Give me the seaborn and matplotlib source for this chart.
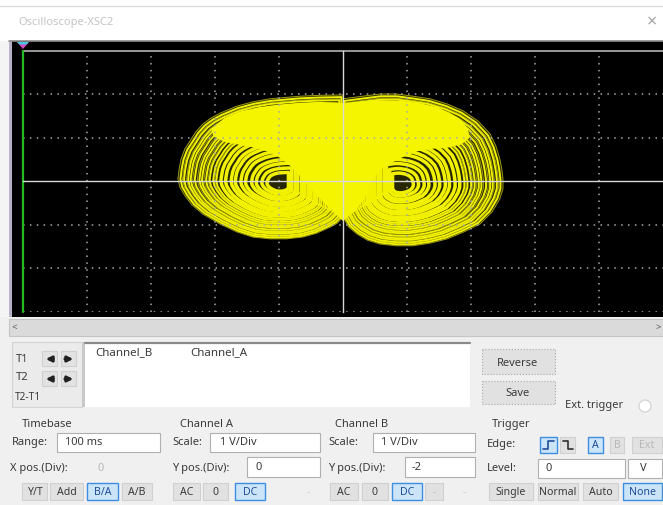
import numpy as np
import pandas as pd
import seaborn as sns
import matplotlib.pyplot as plt
from matplotlib.patches import Rectangle, Polygon, Circle

sns.set_style("dark")
plt.rcParams['font.family'] = ['Noto Sans', 'DejaVu Sans']

W, H = 663, 506

# attractor trace on the screen, in volts (1 V/Div)
left_lobe_x = [0.0, -0.09, -0.20, -0.41, -0.63, -0.88, -1.14, -1.41, -1.66, -1.92, -2.19, -2.36, -2.47, -2.55,
               -2.58, -2.56, -2.53, -2.47, -2.39, -2.30, -2.19, -2.06, -1.92, -1.66, -1.41, -1.14, -0.67, -0.36, 0.0]
left_lobe_y = [-0.83, -0.97, -1.06, -1.20, -1.29, -1.33, -1.33, -1.29, -1.17, -0.99, -0.76, -0.55, -0.34, -0.14,
               0.05, 0.28, 0.51, 0.74, 0.92, 1.13, 1.31, 1.45, 1.56, 1.72, 1.82, 1.89, 1.95, 1.97, 1.98]
right_lobe_x = [0.0, 0.09, 0.22, 0.38, 0.58, 0.83, 1.09, 1.36, 1.63, 1.89, 2.14, 2.33, 2.45, 2.50, 2.50,
                2.48, 2.45, 2.39, 2.30, 2.11, 1.88, 1.63, 1.36, 1.09, 0.84, 0.58, 0.31, 0.0]
right_lobe_y = [-0.83, -1.06, -1.22, -1.36, -1.45, -1.49, -1.49, -1.43, -1.33, -1.17, -0.99, -0.71, -0.41, -0.18,
                0.05, 0.28, 0.51, 0.80, 1.08, 1.38, 1.61, 1.77, 1.89, 1.95, 2.00, 2.00, 1.95, 1.89]
lobe_centres = {"left": (-0.98, -0.07), "right": (0.89, -0.09)}
bright_rings = [0.975, 0.94, 0.9, 0.875, 0.835, 0.79, 0.765, 0.725, 0.69, 0.655, 0.625]
dim_rings = [1.0, 0.955, 0.915, 0.855, 0.81, 0.745, 0.705, 0.64]
inner_rings = [0.58, 0.535, 0.48, 0.44, 0.385, 0.34, 0.28, 0.235, 0.18, 0.13]
dense_x = [-2.06, -1.85, -1.61, -1.30, -0.98, -0.66, -0.36, 0.0, 0.30, 0.58, 0.90, 1.20, 1.47, 1.67, 1.85, 1.95,
           1.98, 1.85, 1.62, 1.38, 1.15, 0.89, 0.62, 0.45, 0.34, 0.18, 0.0,
           -0.16, -0.33, -0.50, -0.66, -0.85, -1.05, -1.30, -1.58, -1.85, -2.02]
dense_y = [1.20, 1.45, 1.60, 1.70, 1.76, 1.80, 1.82, 1.79, 1.83, 1.86, 1.85, 1.79, 1.70, 1.57, 1.40, 1.20,
           1.00, 0.84, 0.76, 0.74, 0.68, 0.52, 0.30, 0.02, -0.40, -0.70, -0.92,
           -0.70, -0.45, -0.20, 0.10, 0.38, 0.60, 0.74, 0.82, 0.90, 1.02]

grid_x = [-4, -3, -2, -1, 1, 2, 3, 4]
grid_y = [-3, -2, -1, 1, 2]


def ring_table(sizes):
    parts = []
    for lobe, xs, ys in (("left", left_lobe_x, left_lobe_y), ("right", right_lobe_x, right_lobe_y)):
        cx, cy = lobe_centres[lobe]
        xs = np.array(xs + xs[:1])
        ys = np.array(ys + ys[:1])
        for s in sizes:
            parts.append(pd.DataFrame({
                "x": cx + s * (xs - cx),
                "y": cy + s * (ys - cy),
                "ring": f"{lobe}{s}",
            }))
    return pd.concat(parts, ignore_index=True)


fig = plt.figure(figsize=(W / 100, H / 100), dpi=100, facecolor="#f0f0f0")
ui = fig.add_axes([0, 0, 1, 1], zorder=0)
ui.set_xlim(0, W)
ui.set_ylim(H, 0)
ui.axis("off")


def box(x0, y0, x1, y1, fc, ec="none", lw=0.8, ls="-"):
    ui.add_patch(Rectangle((x0, y0), x1 - x0, y1 - y0, fc=fc, ec=ec, lw=lw, ls=ls))


def label(x, y, s, color="#3a3a3a", size=8.0, ha="left"):
    ui.text(x, y, s, color=color, fontsize=size, ha=ha, va="center")


def button(x0, x1, s, active=False, y0=484, y1=501, disabled=False):
    if active:
        box(x0, y0, x1, y1, "#cce4f7", "#3d8ee0", lw=1.0)
        col = "#1f4f9a"
    else:
        box(x0, y0, x1, y1, "#e1e1e1", "#d0d0d0")
        col = "#b8b8b8" if disabled else "#3a3a3a"
    label((x0 + x1) / 2, (y0 + y1) / 2, s, color=col, ha="center", size=7.6)


# window frame
box(0, 0, W, 42, "white")
ui.plot([0, W], [7, 7], color="#dcdcdc", lw=1)
label(18, 22, "Oscilloscope-XSC2", color="#c4c4c4", size=8)
label(652, 22, "\u00d7", color="#a8a8a8", size=13, ha="center")
box(0, 42, 9, 318, "#f4f4f4")
box(9, 42, 12, 318, "#b9b2c9")
box(12, 42, W, 318, "black")
ui.plot([9, W], [41.5, 41.5], color="#8c8c8c", lw=1.2)
ui.add_patch(Polygon([(17, 43), (29, 43), (23, 50)], fc="#d848c0", ec="none"))
ui.add_patch(Polygon([(17, 43), (29, 43), (26.5, 45.5), (19.5, 45.5)], fc="#48c8e0", ec="none"))

# scroll bar
box(9, 320, W, 337, "#dadada", "#c4c4c4")
label(12, 328, "<", color="#555555", size=7)
label(656, 328, ">", color="#555555", size=7)

# cursor readout
box(12, 343, 82, 408, "#ebebeb", "#d4d4d4")
box(82, 343, 85, 408, "#c8c8c8")
label(16, 359, "T1")
label(16, 377, "T2")
label(15, 398, "T2-T1", size=7.2)
for yy in (352, 372):
    for xx in (42, 61):
        box(xx, yy, xx + 15, yy + 15, "#e2e2e2", "#d0d0d0")
for yy in (360, 380):
    ui.annotate("", xy=(43, yy), xytext=(56, yy),
                arrowprops=dict(arrowstyle="-|>", color="#202020", lw=2.0, mutation_scale=8))
    ui.annotate("", xy=(76, yy), xytext=(62, yy),
                arrowprops=dict(arrowstyle="-|>", color="#202020", lw=2.0, mutation_scale=8))
box(85, 343, 470, 408, "white")
ui.plot([85, 470], [343.5, 343.5], color="#8a8a8a", lw=1.6)
label(95, 353, "Channel_B", size=8.3)
label(190, 353, "Channel_A", size=8.3)

box(482, 350, 555, 375, "#e1e1e1", "#a8a8a8", ls=":")
label(518, 363, "Reverse", ha="center")
box(482, 382, 555, 405, "#e1e1e1", "#a8a8a8", ls=":")
label(518, 394, "Save", ha="center")
label(565, 406, "Ext. trigger")
ui.add_patch(Circle((645, 407), 6, fc="white", ec="#cfcfcf", lw=0.8))

# control groups
label(22, 425, "Timebase")
label(180, 425, "Channel A")
label(335, 425, "Channel B")
label(492, 425, "Trigger")

label(12, 443, "Range:")
box(57, 434, 160, 453, "white", "#b0b0b0")
label(65, 443, "100 ms")
label(172, 443, "Scale:")
box(210, 434, 320, 453, "white", "#b0b0b0")
label(220, 443, "1 V/Div")
label(328, 443, "Scale:")
box(373, 434, 475, 453, "white", "#b0b0b0")
label(381, 443, "1 V/Div")
label(487, 445, "Edge:")

label(10, 469, "X pos.(Div):")
label(97, 469, "0", color="#b8b8b8")
label(172, 469, "Y pos.(Div):")
box(247, 458, 320, 478, "white", "#b0b0b0")
label(255, 468, "0")
label(328, 469, "Y pos.(Div):")
box(405, 458, 475, 478, "white", "#b0b0b0")
label(412, 468, "-2")
label(487, 469, "Level:")
box(538, 460, 625, 479, "white", "#b0b0b0")
label(545, 469, "0")
box(628, 460, 662, 479, "white", "#b0b0b0")
label(640, 469, "V")

button(540, 557, "", active=True, y0=438, y1=454)
ui.plot([543, 548, 548, 554], [450, 450, 442, 442], color="#1f4f9a", lw=1.2)
button(560, 575, "", y0=438, y1=454)
ui.plot([563, 568, 568, 573], [442, 442, 450, 450], color="#303030", lw=1.2)
button(588, 603, "A", active=True, y0=438, y1=454)
button(610, 624, "B", y0=438, y1=454, disabled=True)
button(632, 662, "Ext", y0=438, y1=454, disabled=True)

button(22, 47, "Y/T")
button(50, 83, "Add")
button(87, 118, "B/A", active=True)
button(122, 152, "A/B")
button(173, 200, "AC")
button(203, 228, "0")
button(235, 265, "DC", active=True)
label(307, 493, "-", color="#c8c8c8")
button(330, 358, "AC")
button(362, 388, "0")
button(392, 422, "DC", active=True)
button(425, 443, "-", disabled=True)
label(463, 493, "-", color="#c8c8c8")
button(489, 533, "Single")
button(538, 578, "Normal")
button(583, 618, "Auto")
button(623, 662, "None", active=True)

# oscilloscope screen
scr = fig.add_axes([23 / W, 1 - 312.5 / H, 640 / W, 261 / H], zorder=1)
scr.set_facecolor("none")
scr.set_xlim(-5, 5)
scr.set_ylim(-3, 3)

env_x = left_lobe_x + right_lobe_x[::-1]
env_y = left_lobe_y + right_lobe_y[::-1]
scr.fill(env_x, env_y, color="#262603", lw=0, zorder=1)
sns.lineplot(data=ring_table(dim_rings), x="x", y="y", units="ring", estimator=None, sort=False,
             color="#9a9a12", lw=0.7, ax=scr, legend=False, zorder=2)
sns.lineplot(data=ring_table(bright_rings), x="x", y="y", units="ring", estimator=None, sort=False,
             color="#f0f000", lw=1.4, ax=scr, legend=False, zorder=2)
sns.lineplot(data=ring_table(inner_rings), x="x", y="y", units="ring", estimator=None, sort=False,
             color="#f2f200", lw=2.5, ax=scr, legend=False, zorder=2)
scr.fill(dense_x, dense_y, color="#f5f500", lw=0, zorder=3)

for gx in grid_x:
    scr.axvline(gx, color="#a8a8a8", lw=1.1, ls=(0, (1, 3.5)), zorder=5)
for gy in grid_y:
    scr.axhline(gy, color="#a8a8a8", lw=1.1, ls=(0, (1, 3.5)), zorder=5)
scr.axvline(-5, color="#22bb22", lw=1.6, zorder=6, clip_on=False)

for side in ("left", "bottom"):
    scr.spines[side].set_position(("data", 0))
    scr.spines[side].set_color("#d8d8d8")
    scr.spines[side].set_linewidth(1.0)
    scr.spines[side].set_zorder(6)
scr.spines["top"].set_color("#9a9a9a")
scr.spines["top"].set_linewidth(1.4)
scr.spines["right"].set_visible(False)
scr.set_xticks(np.arange(-5, 5.01, 0.2))
scr.set_yticks(np.arange(-3, 3.01, 0.2))
scr.tick_params(direction="inout", length=4, width=0.8, color="#d8d8d8",
                labelbottom=False, labelleft=False)
scr.set_xlabel("")
scr.set_ylabel("")
scr.grid(False)

fig.savefig("out.png", dpi=100, facecolor=fig.get_facecolor())
